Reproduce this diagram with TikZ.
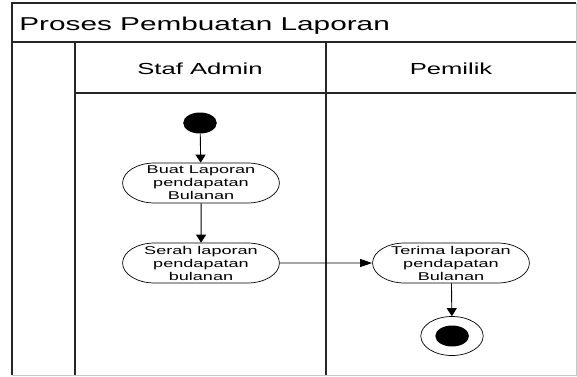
\documentclass[tikz,border=0pt]{standalone}
\usepackage{fontspec}
\setmainfont{Liberation Sans}
\usetikzlibrary{arrows.meta,shapes.misc}
\definecolor{FrameInk}{HTML}{262626}
\definecolor{FrameSoft}{HTML}{C8C8C8}
\tikzset{
  frameline/.style={line width=1.2pt, draw=FrameInk},
  frameedge/.style={line width=1pt, draw=FrameSoft},
  activity/.style={rounded rectangle, draw=black, line width=0.7pt, fill=white,
             minimum width=98pt, minimum height=40pt, inner sep=0pt, align=center,
             font=\fontsize{11.3}{13}\selectfont},
  startdot/.style={circle, fill=black, minimum size=21pt, inner sep=0pt},
  enddot/.style={circle, draw=black, line width=0.7pt, minimum size=39pt, inner sep=0pt},
  lanehead/.style={font=\fontsize{16}{18}\selectfont, anchor=base},
  flow/.style={line width=0.9pt, -{Triangle[length=8pt,width=10pt]}},
}
\begin{document}
\begin{tikzpicture}[x=0.625pt, y=-1pt, xscale=1.6, every node/.append style={transform shape}]
\useasboundingbox (0,0) rectangle (577,376);
% swimlane frame
\draw[frameedge] (576,3) -- (576,375) -- (12,375);
\draw[frameline] (12,375) -- (12,3) -- (576,3);
\draw[frameline] (12,42) -- (576,42);
\draw[frameline] (75,42) -- (75,375);
\draw[frameline] (326,42) -- (326,375);
\draw[frameline] (75,93) -- (576,93);
\node[font=\fontsize{18.6}{20}\selectfont, anchor=base west, inner sep=0pt] (title) at (19,30) {Proses Pembuatan Laporan};
\node[lanehead] (lanestaf) at (200,74) {Staf Admin};
\node[lanehead] (lanepemilik) at (451,74) {Pemilik};
% activities
\node[startdot] (start) at (200,123) {};
\node[activity] (buat) at (201,183) {Buat Laporan\\pendapatan\\Bulanan};
\node[activity] (serah) at (201,263) {Serah laporan\\pendapatan\\bulanan};
\node[activity] (terima) at (451,263) {Terima laporan\\pendapatan\\Bulanan};
\node[enddot] (finish) at (452,336) {};
\node[startdot] (finishdot) at (finish.center) {};
\draw[flow] (start) -- (buat);
\draw[flow] (buat) -- (serah);
\draw[flow, -{Triangle[length=12pt,width=8pt]}] (serah) -- (terima);
\draw[flow] (terima) -- (finish);
\end{tikzpicture}
\end{document}
